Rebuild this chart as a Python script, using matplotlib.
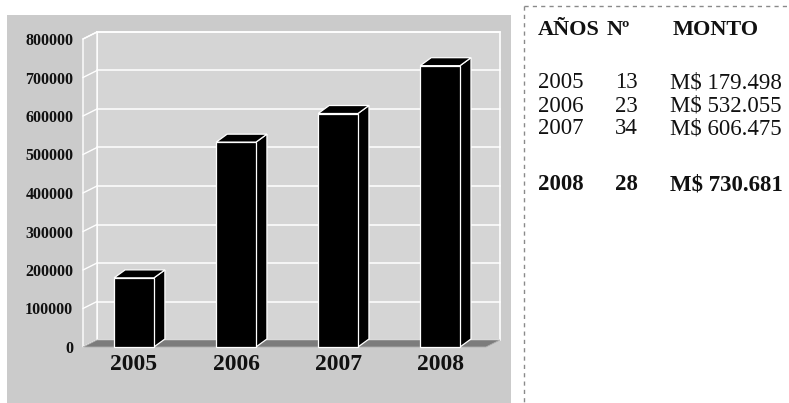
import matplotlib
matplotlib.use("Agg")
import matplotlib.pyplot as plt
from matplotlib.patches import Polygon, Rectangle
from matplotlib.lines import Line2D

# ---- data ----
years = ["2005", "2006", "2007", "2008"]
counts = ["13", "23", "34", "28"]
amounts = [179498, 532055, 606475, 730681]
amount_labels = ["M$ 179.498", "M$ 532.055", "M$ 606.475", "M$ 730.681"]
y_ticks = [0, 100000, 200000, 300000, 400000, 500000, 600000, 700000, 800000]
header = ["AÑOS", "Nº", "MONTO"]

W, H = 789, 403
SERIF = ["Liberation Serif", "DejaVu Serif"]
plt.rcParams["font.family"] = SERIF

fig = plt.figure(figsize=(W / 100, H / 100), dpi=100)
fig.patch.set_facecolor("white")


def fx(px):
    return px / W


def fy(py):
    return 1 - py / H


# grey chart panel
fig.patches.append(Rectangle((fx(7), 0), fx(511) - fx(7), fy(15),
                             transform=fig.transFigure, facecolor="#cbcbcb",
                             edgecolor="none", zorder=-5))

# dashed frame of the table
fig.add_artist(Line2D([fx(524), fx(524)], [fy(6), fy(403)], transform=fig.transFigure,
                      color="#8a8a8a", lw=1, linestyle=(0, (3, 3))))
fig.add_artist(Line2D([fx(524), fx(789)], [fy(6), fy(6)], transform=fig.transFigure,
                      color="#8a8a8a", lw=1, linestyle=(0, (3, 3))))

# ---- axes (front plane) ----
ax = fig.add_axes([fx(83), fy(347), (486 - 83) / W, (347 - 39) / H])
ax.set_zorder(1)
x0, x1 = -0.5, 3.45
ax.set_xlim(x0, x1)
ax.set_ylim(0, 800000)
ax.patch.set_visible(False)
for s in ax.spines.values():
    s.set_visible(False)

# depth offsets (data units)
dx = 14 / 403 * (x1 - x0)
dy = 7 / 308 * 800000
bdx = 11 / 403 * (x1 - x0)
bdy = 8 / 308 * 800000
bw = 0.39
top = y_ticks[-1]

# back wall
ax.add_patch(Rectangle((x0 + dx, dy), x1 - x0, top, facecolor="#d5d5d5",
                       edgecolor="white", lw=1.2, zorder=1, clip_on=False))
# left side wall
ax.add_patch(Polygon([(x0, 0), (x0 + dx, dy), (x0 + dx, top + dy), (x0, top)],
                     closed=True, facecolor="#d0d0d0", edgecolor="white", lw=1,
                     zorder=1, clip_on=False))
# gridlines
for v in y_ticks[1:]:
    ax.plot([x0 + dx, x1 + dx], [v + dy, v + dy], color="white", lw=1.1,
            zorder=2, clip_on=False)
    ax.plot([x0, x0 + dx], [v, v + dy], color="white", lw=1.0, zorder=2, clip_on=False)
# floor
ax.add_patch(Polygon([(x0, 0), (x1, 0), (x1 + dx, dy), (x0 + dx, dy)], closed=True,
                     facecolor="#7c7c7c", edgecolor="#b0b0b0", lw=0.6, zorder=2,
                     clip_on=False))

# bars with 3D sides
xs = list(range(len(years)))
ax.bar(xs, amounts, width=bw, color="black", edgecolor="white", lw=0.9,
       zorder=4, clip_on=False)
for xi, v in zip(xs, amounts):
    r = xi + bw / 2
    l = xi - bw / 2
    ax.add_patch(Polygon([(r, 0), (r + bdx, bdy), (r + bdx, v + bdy), (r, v)],
                         closed=True, facecolor="black", edgecolor="white", lw=0.9,
                         zorder=3, clip_on=False))
    ax.add_patch(Polygon([(l, v), (r, v), (r + bdx, v + bdy), (l + bdx, v + bdy)],
                         closed=True, facecolor="black", edgecolor="white", lw=0.9,
                         zorder=3, clip_on=False))

ax.set_yticks(y_ticks)
ax.set_yticklabels([str(v) for v in y_ticks], fontsize=11.5, fontweight="bold")
ax.set_xticks(xs)
ax.set_xticklabels(years, fontsize=17, fontweight="bold")
ax.tick_params(axis="y", length=0, pad=7, colors="#111111")
ax.tick_params(axis="x", length=0, pad=5, colors="#111111")

# ---- table ----
col_x = [538, 607, 673]
for cx, txt in zip(col_x, header):
    fig.text(fx(cx), fy(30), txt, fontsize=16, fontweight="bold",
             ha="left", va="center", color="#111111")

row_y = [83, 106, 129, 185]
for i, yy in enumerate(row_y):
    w = "bold" if i == len(row_y) - 1 else "normal"
    fig.text(fx(538), fy(yy), years[i], fontsize=16.5, fontweight=w,
             ha="left", va="center", color="#111111")
    fig.text(fx(615), fy(yy), counts[i], fontsize=16.5, fontweight=w,
             ha="left", va="center", color="#111111")
    fig.text(fx(670), fy(yy), amount_labels[i], fontsize=16.5, fontweight=w,
             ha="left", va="center", color="#111111")

fig.savefig("out.png", dpi=100)
